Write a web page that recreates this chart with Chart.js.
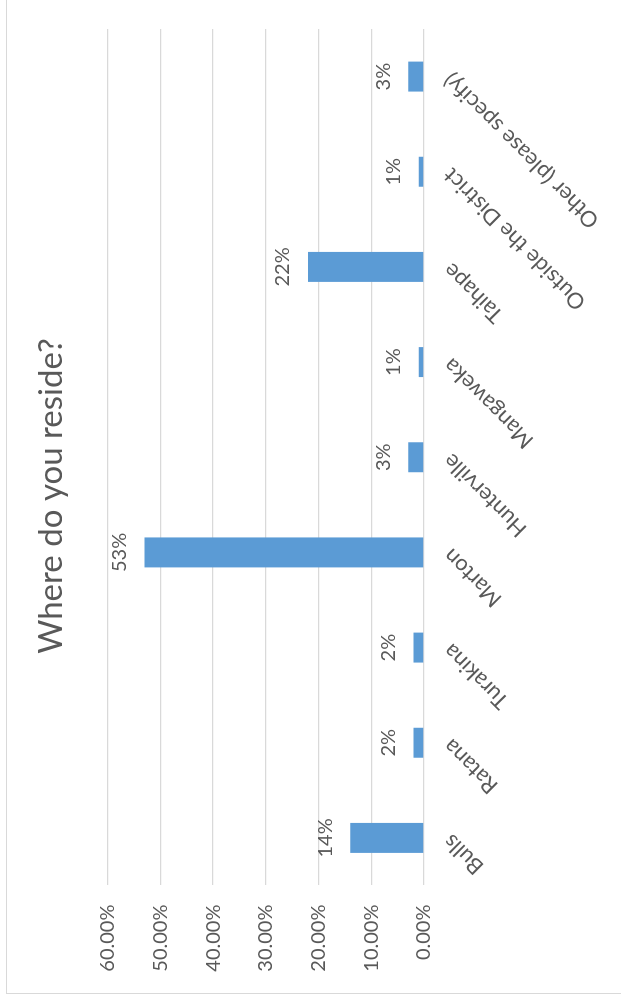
<!DOCTYPE html>
<html>
<head>
<meta charset="utf-8">
<script src="https://cdn.jsdelivr.net/npm/chart.js@4.4.1/dist/chart.umd.min.js"></script>
<style>
  html, body { margin: 0; padding: 0; background: #ffffff; overflow: hidden; }
  body { width: 621px; height: 1000px; position: relative; }
  /* the chart is laid out landscape and turned a quarter turn counter-clockwise */
  #wrap {
    position: absolute; left: 0; top: 0;
    width: 1000px; height: 621px;
    transform-origin: 0 0;
    transform: translate(0, 1000px) rotate(-90deg);
  }
  #frame {
    position: absolute; left: 6px; top: 6px;
    width: 1000px; height: 640px;
    border-top: 1.5px solid #d9d9d9;
    border-left: 1.5px solid #d9d9d9;
    box-sizing: border-box;
  }
  #chart { position: absolute; left: 0; top: 0; }
</style>
</head>
<body>
<div id="wrap">
  <div id="frame"></div>
  <canvas id="chart" width="1000" height="621"></canvas>
</div>
<script>
const categories = [
  'Bulls', 'Ratana', 'Turakina', 'Marton', 'Hunterville',
  'Mangaweka', 'Taihape', 'Outside the District', 'Other (please specify)'
];
const shares = [14, 2, 2, 53, 3, 1, 22, 1, 3];
const valueMin = 0;
const valueMax = 60;
const valueStep = 10;
const chartTitle = 'Where do you reside?';

const FONT = 'Lato, "Open Sans", sans-serif';
const TEXT = '#595959';

// percentage labels above each column
const barValueLabels = {
  id: 'barValueLabels',
  afterDatasetsDraw(chart) {
    const ctx = chart.ctx;
    const meta = chart.getDatasetMeta(0);
    ctx.save();
    ctx.font = '20px ' + FONT;
    ctx.fillStyle = TEXT;
    ctx.textAlign = 'center';
    ctx.textBaseline = 'alphabetic';
    meta.data.forEach((bar, i) => {
      ctx.fillText(shares[i] + '%', bar.x, bar.y - 18.5);
    });
    ctx.restore();
  }
};

// centre the title over the framed chart box rather than the canvas
const titleSpan = {
  id: 'titleSpan',
  afterLayout(chart) {
    const t = chart.titleBlock;
    if (!t) return;
    t.left = 37;
    t.right = chart.width - 29;
    t.width = t.right - t.left;
  }
};

new Chart(document.getElementById('chart'), {
  type: 'bar',
  data: {
    labels: categories,
    datasets: [{
      data: shares,
      backgroundColor: '#5b9bd5',
      borderWidth: 0,
      barPercentage: 0.315,
      categoryPercentage: 1.0
    }]
  },
  options: {
    responsive: false,
    animation: false,
    layout: { padding: { left: 0, right: 29, top: 0, bottom: 0 } },
    plugins: {
      legend: { display: false },
      tooltip: { enabled: false },
      title: {
        display: true,
        text: chartTitle,
        color: TEXT,
        font: { family: FONT, size: 33, weight: 'normal' },
        padding: { top: 32, bottom: 36 }
      }
    },
    scales: {
      x: {
        grid: { display: false, drawTicks: false },
        border: { display: false },
        ticks: {
          autoSkip: false,
          minRotation: 45,
          maxRotation: 45,
          padding: 14,
          color: TEXT,
          font: { family: FONT, size: 22 }
        },
        afterFit(axis) { axis.height = 197; }
      },
      y: {
        min: valueMin,
        max: valueMax,
        grid: { color: '#d9d9d9', lineWidth: 1.3, drawTicks: false },
        border: { display: false },
        ticks: {
          stepSize: valueStep,
          padding: 19,
          color: TEXT,
          font: { family: FONT, size: 20 },
          callback: v => v.toFixed(2) + '%'
        },
        afterFit(axis) { axis.width = 114.5; }
      }
    }
  },
  plugins: [barValueLabels, titleSpan]
});
</script>
</body>
</html>
